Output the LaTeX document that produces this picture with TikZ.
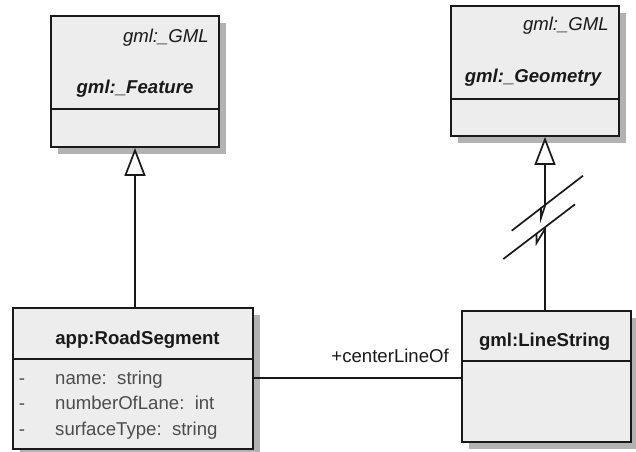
\documentclass[tikz,border=0pt]{standalone}
\usepackage{fontspec}
\setmainfont{Liberation Sans}
\usetikzlibrary{arrows.meta,shadows}
\begin{document}
\begin{tikzpicture}[x=1pt,y=-1pt,
  classbox/.style={rectangle, draw=black!90, line width=1.8pt, fill=black!7, inner sep=0pt,
    drop shadow={shadow xshift=7pt, shadow yshift=-7pt, fill=black!30, opacity=1}},
  txt/.style={font=\fontsize{18.6}{22}\selectfont, inner sep=0pt, text=black!90},
  attr/.style={txt, text=black!70},
  rule/.style={line width=1.8pt, draw=black!90},
  conn/.style={line width=1.7pt, draw=black!90},
  gen/.style={conn, -{Triangle[open, length=28pt, width=21pt, line width=1.7pt]}},
  brk/.style={line width=1.7pt, draw=black!90, line join=miter}]
\useasboundingbox (0,0) rectangle (636,451);

% class boxes
\node[classbox, minimum width=168pt, minimum height=131pt] (feature) at (135,81.5) {};
\node[classbox, minimum width=168pt, minimum height=130pt] (geom) at (535,71) {};
\node[classbox, minimum width=240pt, minimum height=141pt] (road) at (133.3,378.7) {};
\node[classbox, minimum width=169pt, minimum height=131pt] (line) at (546.7,376.2) {};

% compartment rules
\coordinate (fdiv) at (0,109);
\coordinate (gdiv) at (0,98.7);
\coordinate (rdiv) at (0,359.3);
\coordinate (ldiv) at (0,361);
\draw[rule] (feature.west |- fdiv) -- (feature.east |- fdiv);
\draw[rule] (geom.west |- gdiv) -- (geom.east |- gdiv);
\draw[rule] (road.west |- rdiv) -- (road.east |- rdiv);
\draw[rule] (line.west |- ldiv) -- (line.east |- ldiv);

% class names
\node[txt, anchor=base east] (fstereo) at (209,42) {\itshape gml:\_GML};
\node[txt, anchor=base] (fname) at (135,93) {\bfseries\itshape gml:\_Feature};
\node[txt, anchor=base east] (gstereo) at (609,30) {\itshape gml:\_GML};
\node[txt, anchor=base] (gname) at (533,82.7) {\bfseries\itshape gml:\_Geometry};
\node[txt, anchor=base] (rname) at (137.5,344.3) {\bfseries app:RoadSegment};
\node[txt, anchor=base] (lname) at (544.7,346.7) {\bfseries gml:LineString};

% attributes
\node[attr, anchor=base] (d1) at (22,384.3) {-};
\node[attr, anchor=base] (d2) at (22,409.6) {-};
\node[attr, anchor=base] (d3) at (22,435) {-};
\node[attr, anchor=base west] (a1) at (55,384.3) {name:\ \ string};
\node[attr, anchor=base west] (a2) at (55,409.6) {numberOfLane:\ \ int};
\node[attr, anchor=base west] (a3) at (55,435) {surfaceType:\ \ string};

% generalization RoadSegment -> Feature
\draw[gen] (feature.south |- road.north) -- (feature.south);

% generalization LineString -> Geometry, drawn broken
\coordinate (gx) at (545,0);
\coordinate (b1) at (545,206);
\coordinate (b2) at (541,218);
\coordinate (b3) at (541,207.6);
\coordinate (b4) at (545,229);
\coordinate (b5) at (536.5,243);
\coordinate (b6) at (536.5,233.7);
\draw[gen] (b3) -- (b2) -- (b1) -- (geom.south -| gx);
\draw[brk] (line.north -| gx) -- (b4) -- (b5) -- (b6);
\draw[brk] (511.7,230.7) -- (583,175.7);
\draw[brk] (503.3,259) -- (575,204.3);

% association RoadSegment -- LineString
\coordinate (ay) at (0,377.7);
\draw[conn] (road.east |- ay) -- (line.west |- ay);
\node[txt, anchor=base east] (role) at (449,362.7) {+centerLineOf};
\end{tikzpicture}
\end{document}
